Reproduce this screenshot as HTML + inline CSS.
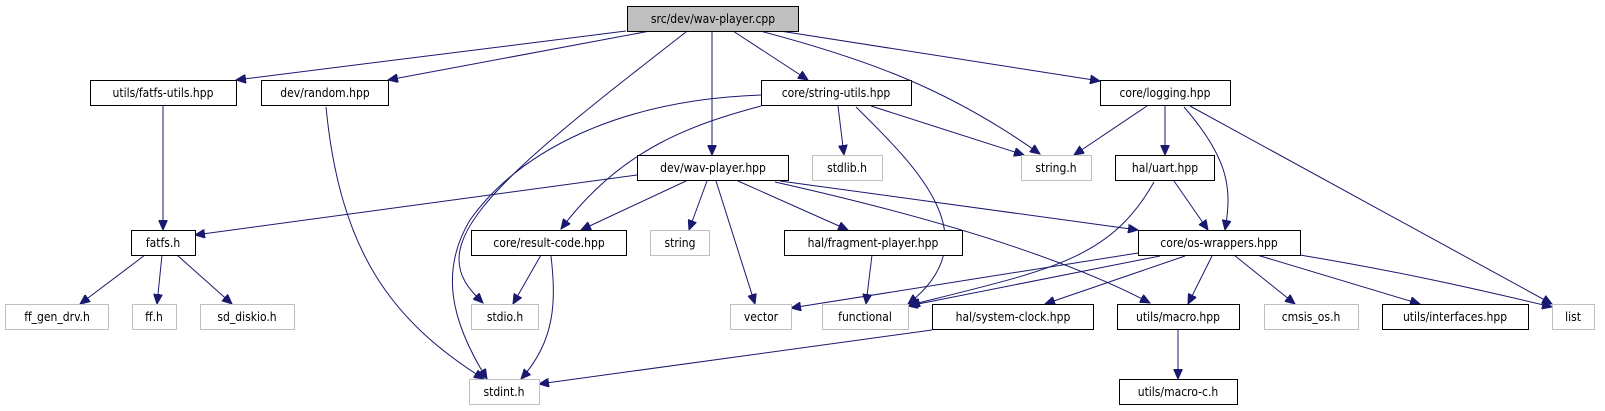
<!DOCTYPE html>
<html><head><meta charset="utf-8"><style>
html,body{margin:0;padding:0;background:#fff;}
svg{display:block;}
text{font-family:"DejaVu Sans Condensed","DejaVu Sans","Liberation Sans",sans-serif;font-size:12px;fill:#000;text-anchor:middle;}
.e{fill:none;stroke:#191970;stroke-width:1;}
.n{fill:#fff;stroke:#000;stroke-width:1;}
.x{fill:#fff;stroke:#bfbfbf;stroke-width:1;}
</style></head><body>
<svg width="1605" height="411" viewBox="0 0 1605 411" xmlns="http://www.w3.org/2000/svg">
<defs><marker id="a" markerUnits="userSpaceOnUse" markerWidth="11" markerHeight="9" refX="10" refY="4.5" orient="auto"><path d="M0,0 L10,4.5 L0,9 Z" fill="#191970" stroke="#191970"/></marker></defs>
<g marker-end="url(#a)">
<path class="e" d="M626,31 L236,80"/>
<path class="e" d="M650,31 L388,80"/>
<path class="e" d="M686,32 C560,130 470,200 460,250 C455,275 470,290 483,303"/>
<path class="e" d="M712,31 L712,155"/>
<path class="e" d="M733,31 L808,80"/>
<path class="e" d="M760,31 C870,60 950,90 1040,154"/>
<path class="e" d="M780,31 L1100,81"/>
<path class="e" d="M163,106 L163,230"/>
<path class="e" d="M326,107 C340,250 390,320 484,379"/>
<path class="e" d="M761,95 C620,100 520,150 470,220 C440,270 450,320 487,379"/>
<path class="e" d="M761,106 C690,125 620,150 561,229"/>
<path class="e" d="M838,106 L844,155"/>
<path class="e" d="M871,106 L1024,155"/>
<path class="e" d="M856,107 C920,170 990,240 908,304"/>
<path class="e" d="M1147,106 L1074,155"/>
<path class="e" d="M1165,106 L1165,155"/>
<path class="e" d="M1184,107 C1230,160 1232,190 1225,230"/>
<path class="e" d="M1190,106 L1552,304"/>
<path class="e" d="M637,175 L195,235"/>
<path class="e" d="M686,181 L581,230"/>
<path class="e" d="M707,181 L689,230"/>
<path class="e" d="M716,181 L755,304"/>
<path class="e" d="M738,181 L848,230"/>
<path class="e" d="M775,182 C900,210 1050,250 1150,303"/>
<path class="e" d="M780,181 L1138,230"/>
<path class="e" d="M1154,182 C1110,260 1050,270 910,305"/>
<path class="e" d="M1174,181 L1208,230"/>
<path class="e" d="M872,255 L866,304"/>
<path class="e" d="M541,255 L513,304"/>
<path class="e" d="M551,256 C556,300 556,340 521,379"/>
<path class="e" d="M145,255 L80,304"/>
<path class="e" d="M162,255 L157,304"/>
<path class="e" d="M177,255 L232,304"/>
<path class="e" d="M1138,253 L791,308"/>
<path class="e" d="M1160,256 L908,306"/>
<path class="e" d="M1185,256 L1045,304"/>
<path class="e" d="M1212,256 L1188,304"/>
<path class="e" d="M1234,255 L1295,304"/>
<path class="e" d="M1257,255 L1420,304"/>
<path class="e" d="M1300,255 C1390,270 1460,285 1552,307"/>
<path class="e" d="M932,330 L539,384"/>
<path class="e" d="M1178,330 L1178,379"/>
</g>
<!-- nodes -->
<rect x="627.5" y="6.5" width="171" height="25" fill="#bfbfbf" stroke="#000"/><text x="713" y="23">src/dev/wav-player.cpp</text>
<rect class="n" x="90.5" y="80.5" width="146" height="25"/><text x="163" y="97">utils/fatfs-utils.hpp</text>
<rect class="n" x="261.5" y="80.5" width="127" height="25"/><text x="325" y="97">dev/random.hpp</text>
<rect class="n" x="761.5" y="80.5" width="150" height="25"/><text x="836" y="97">core/string-utils.hpp</text>
<rect class="n" x="1100.5" y="80.5" width="130" height="25"/><text x="1165" y="97">core/logging.hpp</text>
<rect class="n" x="637.5" y="155.5" width="151" height="25"/><text x="713" y="172">dev/wav-player.hpp</text>
<rect class="x" x="812.5" y="155.5" width="70" height="25"/><text x="847" y="172">stdlib.h</text>
<rect class="x" x="1021.5" y="155.5" width="70" height="25"/><text x="1056" y="172">string.h</text>
<rect class="n" x="1115.5" y="155.5" width="99" height="25"/><text x="1165" y="172">hal/uart.hpp</text>
<rect class="n" x="131.5" y="230.5" width="64" height="25"/><text x="163" y="247">fatfs.h</text>
<rect class="n" x="471.5" y="230.5" width="155" height="25"/><text x="549" y="247">core/result-code.hpp</text>
<rect class="x" x="650.5" y="230.5" width="59" height="25"/><text x="680" y="247">string</text>
<rect class="n" x="784.5" y="230.5" width="178" height="25"/><text x="873" y="247">hal/fragment-player.hpp</text>
<rect class="n" x="1138.5" y="230.5" width="162" height="25"/><text x="1219" y="247">core/os-wrappers.hpp</text>
<rect class="x" x="5.5" y="304.5" width="103" height="25"/><text x="57" y="321">ff_gen_drv.h</text>
<rect class="x" x="132.5" y="304.5" width="44" height="25"/><text x="154" y="321">ff.h</text>
<rect class="x" x="200.5" y="304.5" width="94" height="25"/><text x="247" y="321">sd_diskio.h</text>
<rect class="x" x="471.5" y="304.5" width="67" height="25"/><text x="505" y="321">stdio.h</text>
<rect class="x" x="730.5" y="304.5" width="61" height="25"/><text x="761" y="321">vector</text>
<rect class="x" x="822.5" y="304.5" width="86" height="25"/><text x="865" y="321">functional</text>
<rect class="n" x="932.5" y="304.5" width="161" height="25"/><text x="1013" y="321">hal/system-clock.hpp</text>
<rect class="n" x="1117.5" y="304.5" width="122" height="25"/><text x="1178" y="321">utils/macro.hpp</text>
<rect class="x" x="1264.5" y="304.5" width="94" height="25"/><text x="1311" y="321">cmsis_os.h</text>
<rect class="n" x="1382.5" y="304.5" width="146" height="25"/><text x="1455" y="321">utils/interfaces.hpp</text>
<rect class="x" x="1552.5" y="304.5" width="42" height="25"/><text x="1573" y="321">list</text>
<rect class="x" x="469.5" y="379.5" width="70" height="25"/><text x="504" y="396">stdint.h</text>
<rect class="n" x="1119.5" y="379.5" width="118" height="25"/><text x="1178" y="396">utils/macro-c.h</text>
</svg>
</body></html>
